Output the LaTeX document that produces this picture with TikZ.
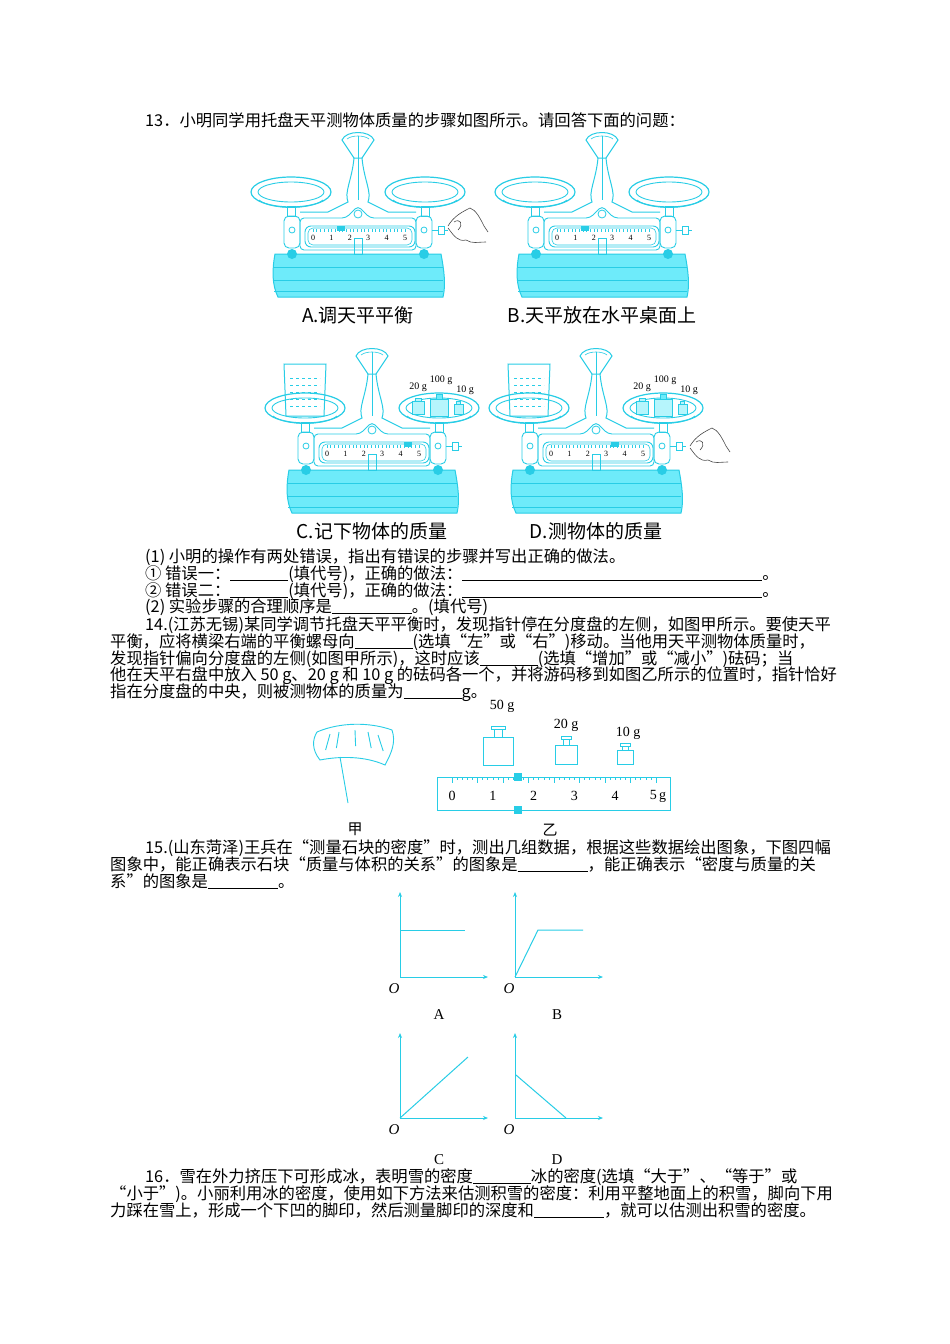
\documentclass[tikz,border=0pt]{standalone}
\usepackage{fontspec}
\usetikzlibrary{arrows.meta}
\setmainfont{Liberation Serif}
\newfontfamily\cjk{Noto Sans CJK SC}
\definecolor{cyf}{RGB}{110,235,250}
\definecolor{cyd}{RGB}{40,205,230}
\newcommand\blank[1]{\underline{\hspace{#1pt}}}
\newcommand\balance[4]{%
\begin{scope}[shift={(#1,#2)}]
% base
\filldraw[cyd,fill=cyf,line width=1pt] (-83,124) -- (83,124) .. controls (86,140) and (88,155) .. (85,167) -- (-80,167) .. controls (-86,155) and (-86,140) .. (-83,124) -- cycle;
\foreach \yy in {137,150,161} \draw[cyd,line width=0.8pt] (-84,\yy) -- (85,\yy);
\fill[cyd] (-66,124) circle (5); \fill[cyd] (66,124) circle (5);
\draw[cyd,line width=0.9pt] (-4,108) rectangle (4,124);
% pans
\foreach \s in {-1,1}{
 \draw[cyd,line width=1.2pt] (\s*67,62) ellipse (40 and 15);
 \draw[cyd,line width=0.9pt] (\s*67,62) ellipse (33 and 10);
 \draw[cyd,line width=0.8pt] (\s*67-32,70) .. controls (\s*67-20,80) and (\s*67+20,80) .. (\s*67+32,70);
 \draw[cyd,line width=0.9pt] (\s*67-4,76) rectangle (\s*67+4,86);
 \draw[cyd,line width=0.9pt,rounded corners=5pt] (\s*66-8,86) rectangle (\s*66+8,118);
 \draw[cyd,line width=0.8pt] (\s*66,100) circle (3);}
% frame
\draw[cyd,line width=0.9pt,rounded corners=4pt] (-58,88) -- (-12,88) -- (0,76) -- (12,88) -- (58,88) -- (58,120) -- (-58,120) -- cycle;
\draw[cyd,line width=0.9pt,rounded corners=6pt] (-53,96) rectangle (57,117);
\draw[cyd,line width=0.6pt,rounded corners=5pt] (-50,98) rectangle (54,115);
\foreach \i in {0,...,25} \draw[cyd,line width=0.4pt] ({-45+\i*3.68},99) -- ({-45+\i*3.68},102);
\foreach \i in {0,...,5} \node[font=\fontsize{8}{8}\selectfont,inner sep=0] at ({-45+\i*18.4},108) {\i};
\fill[cyd] ({-45+#3*18.4-4},96) rectangle ({-45+#3*18.4+4},101);
\draw[cyd,line width=0.8pt] (0,84) circle (4);
\draw[cyd,line width=0.8pt] (74,100) -- (80,100); \draw[cyd,line width=0.8pt] (80,96) rectangle (86,104); \draw[cyd,line width=0.8pt] (86,100) -- (90,100);
% column and dial
\draw[cyd,line width=1pt] (-4,28) .. controls (-6,50) and (-14,62) .. (-10,72) -- (-30,82) -- (-58,82);
\draw[cyd,line width=1pt] (4,28) .. controls (6,50) and (14,62) .. (10,72) -- (30,82) -- (58,82);
\draw[cyd,line width=1pt] (-16,10) .. controls (-12,0) and (12,0) .. (16,10) -- (4,28) -- (-4,28) -- cycle;
\draw[cyd,line width=0.6pt] (-11,9) .. controls (-6,5) and (6,5) .. (11,9);
\draw[cyd,line width=0.6pt] (0,6) -- (0,70);
\node[font=\cjk\fontsize{19}{19}\selectfont,anchor=base] at (0,192) {#4};
\end{scope}}
\newcommand\weights[2]{%
\begin{scope}[shift={(#1,#2)}]
\filldraw[cyd,fill=cyf!50,line width=0.8pt] (-27,55) rectangle (-15,68);
\filldraw[cyd,fill=cyf!50,line width=0.8pt] (-24,52) rectangle (-18,55);
\filldraw[cyd,fill=cyf!50,line width=0.8pt] (-9,53) rectangle (9,70); \filldraw[cyd,fill=cyf] (-3,48) rectangle (3,53);
\filldraw[cyd,fill=cyf!50,line width=0.8pt] (15,58) rectangle (24,68);
\filldraw[cyd,fill=cyf!50,line width=0.8pt] (17.5,55) rectangle (21.5,58);
\end{scope}}
\newcommand\beaker[2]{%
\begin{scope}[shift={(#1,#2)}]
\draw[cyd,line width=1pt] (-22,18) -- (20,18) -- (18,70) -- (-20,70) -- cycle;
\foreach \yy in {32,39,46,53,60} \draw[cyd,line width=0.7pt,dashed] (-16,\yy) -- (14,\yy);
\end{scope}}
\newcommand\hand[2]{%
\begin{scope}[shift={(#1,#2)}]
\draw[black!70,line width=0.6pt] (0,0) .. controls (6,-10) and (14,-14) .. (22,-18) .. controls (28,-16) and (32,-8) .. (36,0) -- (40,6);
\draw[black!70,line width=0.6pt] (0,2) .. controls (6,10) and (10,16) .. (18,14) .. controls (24,18) and (30,16) .. (38,16);
\draw[black!70,line width=0.6pt] (6,-4) .. controls (12,-8) and (16,-2) .. (10,4);
\end{scope}}
\begin{document}
\begin{tikzpicture}[x=1pt,y=-1pt,txt/.style={anchor=base west,inner sep=0,font=\cjk\fontsize{16.3}{17}\selectfont}]
\fill[white] (0,0) rectangle (950,1344);
\useasboundingbox (0,0) rectangle (950,1344);
\node[txt] (t13) at (145,126) {13．小明同学用托盘天平测物体质量的步骤如图所示。请回答下面的问题：};
\balance{358}{130}{1.5}{A.调天平平衡}
\hand{448}{226}
\balance{602}{130}{1.5}{B.天平放在水平桌面上}
\balance{372}{346}{4.4}{C.记下物体的质量}
\beaker{306}{346}\weights{439}{346}
\node[font=\fontsize{10}{10}\selectfont,inner sep=0] at (418,387) {20 g};
\node[font=\fontsize{10}{10}\selectfont,inner sep=0] at (441,380) {100 g};
\node[font=\fontsize{10}{10}\selectfont,inner sep=0] at (465,390) {10 g};
\balance{596}{346}{3.5}{D.测物体的质量}
\beaker{530}{346}\weights{663}{346}
\node[font=\fontsize{10}{10}\selectfont,inner sep=0] at (642,387) {20 g};
\node[font=\fontsize{10}{10}\selectfont,inner sep=0] at (665,380) {100 g};
\node[font=\fontsize{10}{10}\selectfont,inner sep=0] at (689,390) {10 g};
\hand{690}{446}
\node[txt] at (145,562) {(1) 小明的操作有两处错误，指出有错误的步骤并写出正确的做法。};
\node[txt] at (145,579) {① 错误一：\blank{58}(填代号)，正确的做法：\blank{300}。};
\node[txt] at (145,596) {② 错误二：\blank{58}(填代号)，正确的做法：\blank{300}。};
\node[txt] at (145,612) {(2) 实验步骤的合理顺序是\blank{80}。(填代号)};
\node[txt] at (145,630) {14.(江苏无锡)某同学调节托盘天平平衡时，发现指针停在分度盘的左侧，如图甲所示。要使天平};
\node[txt] at (110,647) {平衡，应将横梁右端的平衡螺母向\blank{58}(选填“左”或“右”)移动。当他用天平测物体质量时，};
\node[txt] at (110,664) {发现指针偏向分度盘的左侧(如图甲所示)，这时应该\blank{58}(选填“增加”或“减小”)砝码；当};
\node[txt] at (110,680) {他在天平右盘中放入 50 g、20 g 和 10 g 的砝码各一个，并将游码移到如图乙所示的位置时，指针恰好};
\node[txt] at (110,697) {指在分度盘的中央，则被测物体的质量为\blank{58}g。};
% fig jia
\draw[cyd,line width=0.9pt] (317,732) .. controls (340,722) and (370,722) .. (392,730) .. controls (396,742) and (392,752) .. (385,765) .. controls (365,756) and (340,756) .. (320,760) .. controls (312,750) and (312,740) .. (317,732);
\foreach \a/\b in {330/734,339/732,355/730,368/732,378/735} \draw[cyd,line width=0.9pt] (\a,\b) -- ({\a+2*(\a-352)/10},{\b+16});
\draw[cyd,line width=0.9pt] (340,757) -- (348,803);
\node[font=\cjk\fontsize{15}{15}\selectfont] (jia) at (355,829) {甲};
% ruler
\draw[cyd,line width=0.9pt] (437,777) rectangle (670,810);
\foreach \i in {0,...,40} \draw[cyd,line width=0.6pt] ({452+\i*5.1},777) -- ({452+\i*5.1},{777+ifthenelse(mod(\i,5)==0,6,3)});
\foreach \i/\t in {0/0,1/1,2/2,3/3,4/4} \node[font=\fontsize{14}{14}\selectfont] at ({452+\i*40.8},796) {\t};
\node[font=\fontsize{14}{14}\selectfont] at (658,796) {5\,g};
\fill[cyd] (514,773) rectangle (522,781); \fill[cyd] (514,806) rectangle (522,814);
\draw[cyd,line width=0.9pt] (483,737) rectangle (513,765); \draw[cyd,line width=0.9pt] (494,729) rectangle (502,737); \draw[cyd,line width=0.9pt] (491,726) rectangle (505,729);
\draw[cyd,line width=0.9pt] (555,745) rectangle (577,764); \draw[cyd,line width=0.9pt] (563,739) rectangle (569,745); \draw[cyd,line width=0.9pt] (561,736) rectangle (571,739);
\draw[cyd,line width=0.9pt] (617,750) rectangle (633,764); \draw[cyd,line width=0.9pt] (622,746) rectangle (628,750); \draw[cyd,line width=0.9pt] (620,743) rectangle (630,746);
\node[font=\fontsize{14}{14}\selectfont] at (502,706) {50 g};
\node[font=\fontsize{14}{14}\selectfont] at (566,725) {20 g};
\node[font=\fontsize{14}{14}\selectfont] at (628,733) {10 g};
\node[font=\cjk\fontsize{15}{15}\selectfont] (yi) at (550,830) {乙};
\node[txt] at (145,853) {15.(山东菏泽)王兵在“测量石块的密度”时，测出几组数据，根据这些数据绘出图象，下图四幅};
\node[txt] at (110,870) {图象中，能正确表示石块“质量与体积的关系”的图象是\blank{70}，能正确表示“密度与质量的关};
\node[txt] at (110,887) {系”的图象是\blank{70}。};
% graphs
\tikzset{ax/.style={cyd,line width=1pt,-{Stealth[length=5pt,width=4pt]}},gl/.style={cyd,line width=1pt}}
\foreach \ox/\oy in {400/977,515/977,400/1118,515/1118}{
 \draw[ax] (\ox,\oy) -- (\ox,\oy-85);
 \draw[ax] (\ox,\oy) -- (\ox+88,\oy);
 \node[font=\itshape\fontsize{15}{15}\selectfont] at (\ox-6,\oy+12) {O};}
\draw[gl] (400,930) -- (465,930);
\draw[gl] (515,977) -- (538,930) -- (583,930);
\draw[gl] (400,1118) -- (468,1057);
\draw[gl] (516,1075) -- (566,1118);
\node[font=\fontsize{15}{15}\selectfont] at (439,1015) {A};
\node[font=\fontsize{15}{15}\selectfont] at (557,1015) {B};
\node[font=\fontsize{15}{15}\selectfont] at (439,1160) {C};
\node[font=\fontsize{15}{15}\selectfont] at (557,1160) {D};
\node[txt] at (145,1182) {16．雪在外力挤压下可形成冰，表明雪的密度\blank{58}冰的密度(选填“大于”、“等于”或};
\node[txt] at (110,1199) {“小于”)。小丽利用冰的密度，使用如下方法来估测积雪的密度：利用平整地面上的积雪，脚向下用};
\node[txt] at (110,1216) {力踩在雪上，形成一个下凹的脚印，然后测量脚印的深度和\blank{70}，就可以估测出积雪的密度。};
\end{tikzpicture}
\end{document}
